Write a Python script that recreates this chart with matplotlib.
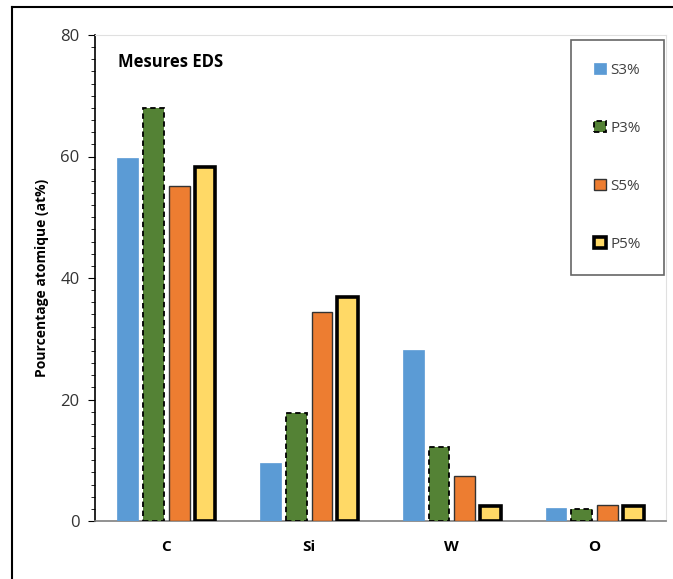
import matplotlib
matplotlib.use("Agg")
import matplotlib.pyplot as plt
import numpy as np
from matplotlib.ticker import MultipleLocator

categories = ["C", "Si", "W", "O"]
series = ["S3%", "P3%", "S5%", "P5%"]
s3 = [59.8, 9.6, 28.1, 2.1]
p3 = [68.0, 17.7, 12.1, 2.0]
s5 = [55.2, 34.4, 7.4, 2.6]
p5 = [58.3, 36.8, 2.5, 2.4]
values = [s3, p3, s5, p5]

colors = ["#5B9BD5", "#548235", "#ED7D31", "#FFD966"]
edges = [("#5B9BD5", 0.5, "solid"), ("black", 1.3, (0, (3, 2))), ("#333333", 1.0, "solid"), ("black", 2.6, "solid")]

plt.rcParams['font.family'] = ['Open Sans', 'DejaVu Sans']

fig = plt.figure(figsize=(6.73, 5.79), dpi=100)
ax = fig.add_axes([95/673, 1-521/579, (666-95)/673, (521-35)/579])

x = np.arange(len(categories))
w = 0.145
offs = [-0.27, -0.09, 0.09, 0.27]
for i in range(4):
    ec, lw, ls = edges[i]
    ax.bar(x + offs[i], values[i], width=w, color=colors[i], edgecolor=ec,
           linewidth=lw, linestyle=ls, label=series[i], zorder=3)

ax.set_xlim(-0.5, 3.5)
ax.set_ylim(0, 80)
ax.set_xticks(x)
ax.set_xticklabels(categories, fontsize=11, fontweight='bold')
ax.yaxis.set_major_locator(MultipleLocator(20))
ax.yaxis.set_minor_locator(MultipleLocator(2))
ax.tick_params(axis='y', which='major', length=5, labelsize=12, direction='out', pad=6, colors='black')
ax.tick_params(axis='y', which='minor', length=3, direction='out')
ax.tick_params(axis='x', length=0, pad=14)
for lab in ax.get_yticklabels():
    lab.set_color('#333333')
ax.spines['left'].set_color('black')
ax.spines['left'].set_linewidth(1.2)
ax.spines['bottom'].set_color('#7F7F7F')
ax.spines['bottom'].set_linewidth(1.2)
ax.spines['top'].set_color('#E0E0E0')
ax.spines['right'].set_color('#E0E0E0')
ax.set_ylabel("Pourcentage atomique (at%)", fontsize=10, fontweight='bold', labelpad=8)

ax.text(0.04, 0.945, "Mesures EDS", transform=ax.transAxes, fontsize=12, fontweight='bold',
        ha='left', va='center')

leg = ax.legend(loc='upper right', bbox_to_anchor=(0.9965, 0.99), frameon=True, fancybox=False,
                edgecolor='#404040', fontsize=11, labelspacing=2.8, handlelength=0.8,
                handleheight=0.8, handletextpad=0.3, borderpad=1.5, borderaxespad=0.0)
leg.get_frame().set_linewidth(1.2)
for t in leg.get_texts():
    t.set_color('#404040')

# outer frame lines of the original figure
fig.add_artist(plt.Line2D([12/673, 12/673], [0, 1-7/579], color='black', lw=1.5, transform=fig.transFigure))
fig.add_artist(plt.Line2D([12/673, 1], [1-7/579, 1-7/579], color='black', lw=1.5, transform=fig.transFigure))

fig.savefig("out.png", dpi=100)
